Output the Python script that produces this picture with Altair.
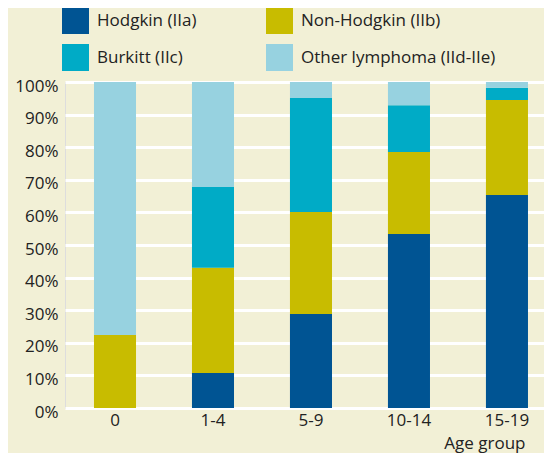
import altair as alt
import pandas as pd

age_groups = ["0", "1-4", "5-9", "10-14", "15-19"]
types = ["Hodgkin (IIa)", "Non-Hodgkin (IIb)", "Burkitt (IIc)", "Other lymphoma (IId-IIe)"]
colors = ["#005493", "#c8bc00", "#00abc6", "#97d2e0"]
# legend fills column by column: Hodgkin, Burkitt | Non-Hodgkin, Other
legend_order = [0, 2, 1, 3]

hodgkin = [0.0, 10.7, 28.8, 53.4, 65.3]
non_hodgkin = [22.4, 32.3, 31.3, 25.1, 29.2]
burkitt = [0.0, 24.8, 35.0, 14.4, 3.7]
other = [77.6, 32.2, 4.9, 7.1, 1.8]

series = [hodgkin, non_hodgkin, burkitt, other]
rows = []
for ti, (t, vals) in enumerate(zip(types, series)):
    for a, v in zip(age_groups, vals):
        rows.append({"age": a, "type": t, "value": v / 100.0, "order": ti})
df = pd.DataFrame(rows)

dom = [types[i] for i in legend_order]
rng = [colors[i] for i in legend_order]

font = "Open Sans"
text_color = "#222222"

chart = alt.Chart(df).mark_bar().encode(
    x=alt.X("age:N", sort=age_groups,
            scale=alt.Scale(paddingInner=0.571, paddingOuter=0.2296, align=0.644),
            axis=alt.Axis(title="Age group", labelAngle=0, labelFontSize=17,
                          labelPadding=4, ticks=False, domain=False,
                          titleFontSize=17, titleFontWeight="normal",
                          titleAlign="right", titleAnchor="end", titleBaseline="alphabetic",
                          titleX=460, titleY=40, titleColor=text_color,
                          labelColor=text_color)),
    y=alt.Y("value:Q", stack="zero",
            scale=alt.Scale(domain=[0, 1], nice=False),
            axis=alt.Axis(title=None, format=".0%", values=[i / 10 for i in range(11)],
                          labelFontSize=17, labelPadding=7, ticks=False, domain=False,
                          gridColor="white", gridWidth=3, labelOffset=4,
                          labelColor=text_color)),
    color=alt.Color("type:N",
                    scale=alt.Scale(domain=dom, range=rng),
                    legend=alt.Legend(title=None, orient="none", legendX=-3, legendY=-75,
                                      columns=2, symbolType="square", symbolSize=729,
                                      symbolStrokeWidth=0, symbolOpacity=1,
                                      labelFontSize=17, labelOffset=8,
                                      columnPadding=69, rowPadding=10,
                                      gridAlign="each", labelLimit=400,
                                      labelColor=text_color)),
    order=alt.Order("order:Q", sort="ascending"),
).properties(
    width=479, height=326,
    background="#f2f0d6",
    padding={"left": 57, "top": 74, "right": 0, "bottom": 45},
    autosize=alt.AutoSizeParams(type="none"),
).configure_view(
    fill="#a6b1cf", stroke="transparent"
).configure(
    font=font
)

chart.save("out.html", embed_options={"renderer": "svg", "actions": False})
